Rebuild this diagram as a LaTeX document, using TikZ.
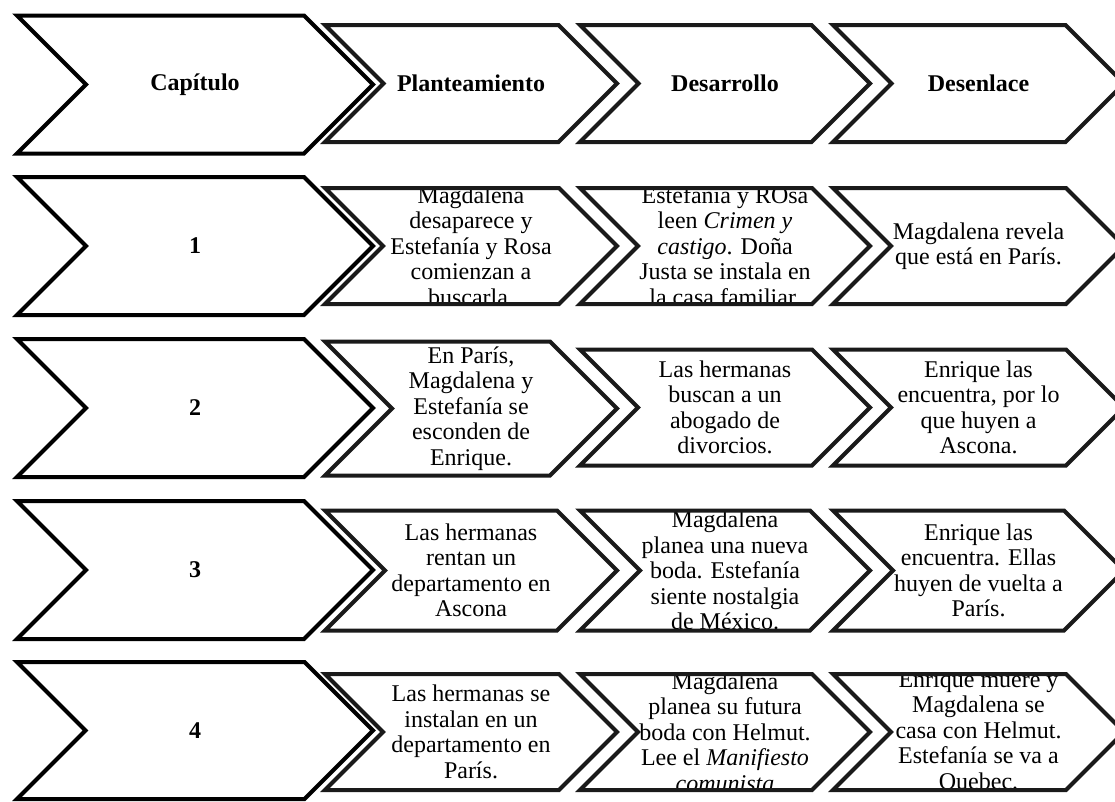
\documentclass[tikz,border=0pt]{standalone}
\usepackage{fontspec}
\setmainfont{Liberation Serif}
\definecolor{edgeA}{HTML}{000000}
\definecolor{edgeB}{HTML}{1A1A1A}
\tikzset{
  txt/.style={align=center, inner sep=0pt, font=\fontsize{24}{25.5}\selectfont},
  head/.style={align=center, inner sep=0pt, font=\fontsize{24}{25.5}\selectfont\bfseries},
  bigline/.style={draw=edgeA, line width=4pt, line join=miter},
  smallline/.style={draw=edgeB, line width=4pt, line join=miter},
}
% #1 left x, #2 tip x, #3 centre y, #4 half height, #5 line style, #6 text style, #7 name, #8 text
\newcommand{\mkchev}[8]{%
  \fill[white] (#1,{#3-#4}) -- ({#2-#4},{#3-#4}) -- (#2,#3) -- ({#2-#4},{#3+#4}) -- (#1,{#3+#4}) -- ({#1+#4},#3) -- cycle;
  \begin{scope}
    \clip (0,{#3-#4}) rectangle (1115,{#3+#4});
    \node[#6] (#7) at ({(#1+#2)/2},#3) {#8};
  \end{scope}
  \path[#5] (#1,{#3-#4}) -- ({#2-#4},{#3-#4}) -- (#2,#3) -- ({#2-#4},{#3+#4}) -- (#1,{#3+#4}) -- ({#1+#4},#3) -- cycle;
}
\begin{document}
\begin{tikzpicture}[x=1pt,y=-1pt]
\useasboundingbox (0,0) rectangle (1115,801);
% header row
\mkchev{17}{373}{84.5}{69}{bigline}{head}{h0}{Capítulo}
\mkchev{325}{617}{83.5}{58.5}{smallline}{head}{h1}{Planteamiento}
\mkchev{580}{870}{83.5}{58.5}{smallline}{head}{h2}{Desarrollo}
\mkchev{833}{1124}{83.5}{58.5}{smallline}{head}{h3}{Desenlace}
% row 1
\mkchev{17}{373}{246}{69}{bigline}{head}{c1}{1}
\mkchev{325}{617}{246}{58}{smallline}{txt}{p1}{Magdalena\\desaparece y\\Estefanía y Rosa\\comienzan a\\buscarla.}
\mkchev{580}{870}{246}{58}{smallline}{txt}{d1}{Estefanía y ROsa\\leen \textit{Crimen y}\\\textit{castigo}. Doña\\Justa se instala en\\la casa familiar.}
\mkchev{833}{1124}{246}{58}{smallline}{txt}{e1}{Magdalena revela\\que está en París.}
% row 2
\mkchev{17}{373}{408}{69}{bigline}{head}{c2}{2}
\mkchev{325}{617}{408.5}{67}{smallline}{txt}{p2}{En París,\\Magdalena y\\Estefanía se\\esconden de\\Enrique.}
\mkchev{580}{870}{407.5}{58}{smallline}{txt}{d2}{Las hermanas\\buscan a un\\abogado de\\divorcios.}
\mkchev{833}{1124}{407.5}{58}{smallline}{txt}{e2}{Enrique las\\encuentra, por lo\\que huyen a\\Ascona.}
% row 3
\mkchev{17}{373}{570}{69}{bigline}{head}{c3}{3}
\mkchev{325}{617}{570.5}{60}{smallline}{txt}{p3}{Las hermanas\\rentan un\\departamento en\\Ascona}
\mkchev{580}{870}{570.5}{60}{smallline}{txt}{d3}{Magdalena\\planea una nueva\\boda. Estefanía\\siente nostalgia\\de México.}
\mkchev{833}{1124}{570.5}{60}{smallline}{txt}{e3}{Enrique las\\encuentra. Ellas\\huyen de vuelta a\\París.}
% row 4
\mkchev{17}{373}{730.5}{68.5}{bigline}{head}{c4}{4}
\mkchev{325}{617}{732}{58}{smallline}{txt}{p4}{Las hermanas se\\instalan en un\\departamento en\\París.}
\mkchev{580}{870}{732}{58}{smallline}{txt}{d4}{Magdalena\\planea su futura\\boda con Helmut.\\Lee el \textit{Manifiesto}\\\textit{comunista}}
\mkchev{833}{1124}{732}{58}{smallline}{txt}{e4}{Enrique muere y\\Magdalena se\\casa con Helmut.\\Estefanía se va a\\Quebec.}
\end{tikzpicture}
\end{document}
